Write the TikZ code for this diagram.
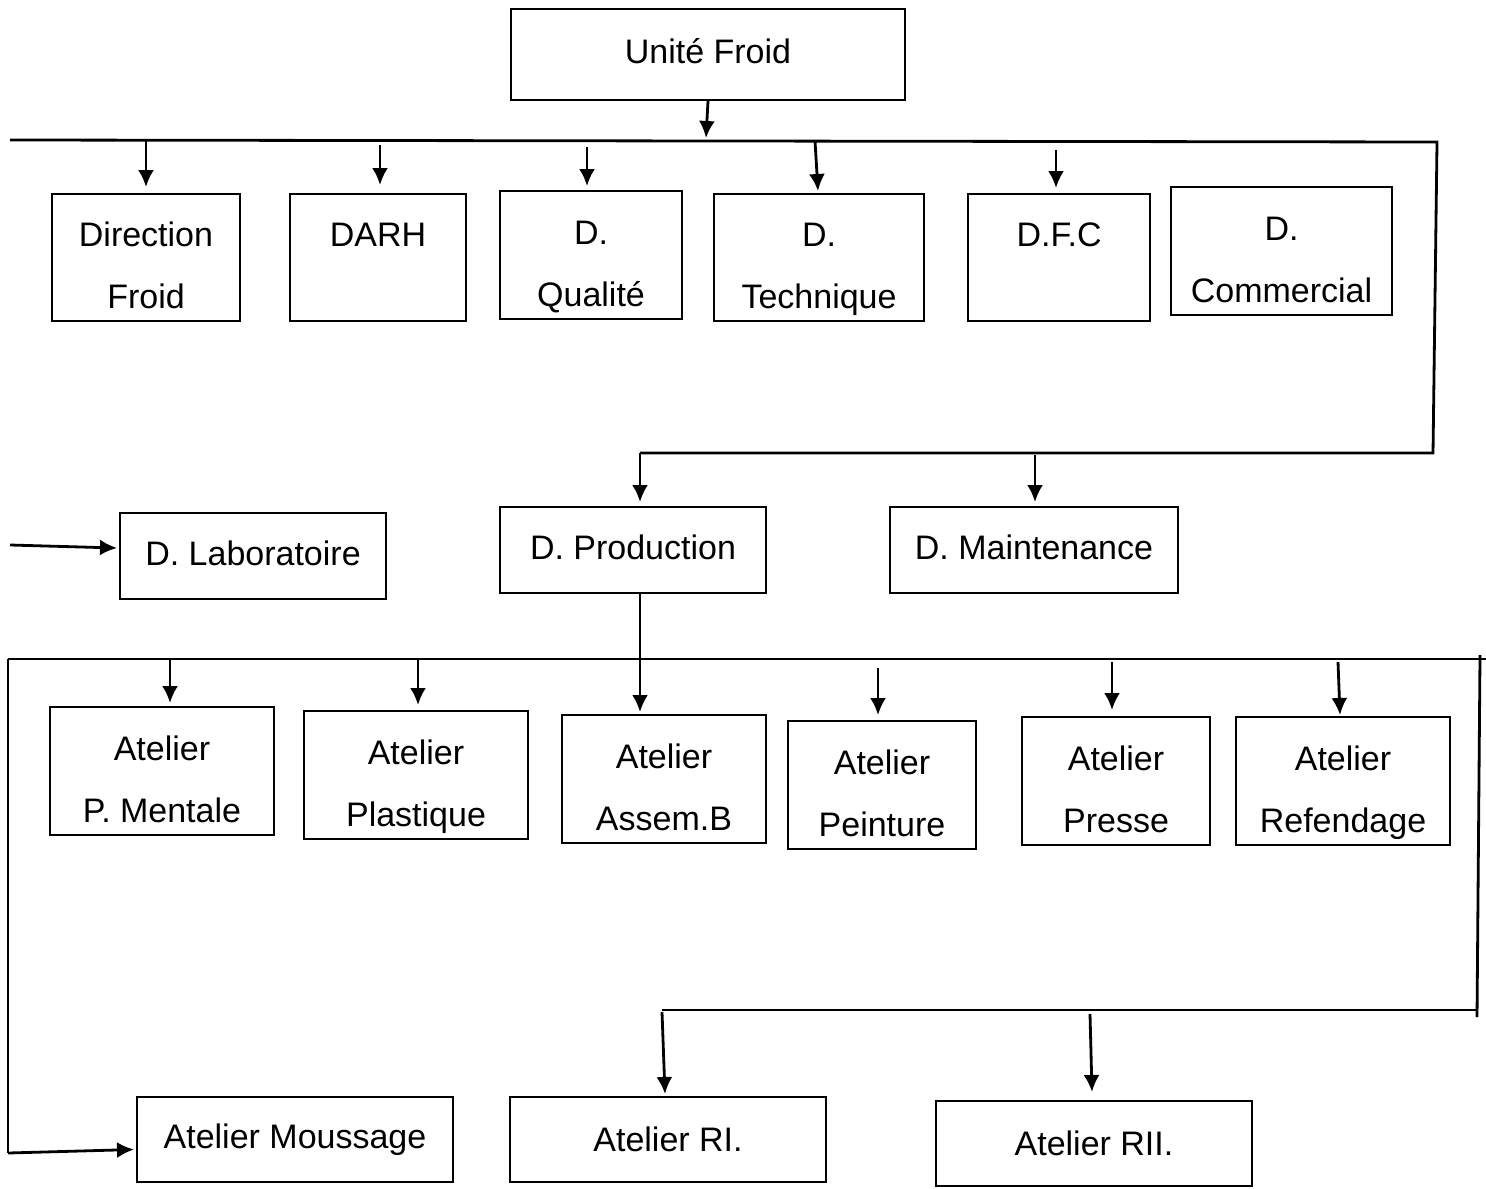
\documentclass[tikz,border=0pt]{standalone}
\usepackage{fontspec}
\setmainfont{Liberation Sans}
\usetikzlibrary{arrows.meta}
\begin{document}
\begin{tikzpicture}[x=0.5pt,y=-0.5pt,
  box/.style={draw=black,line width=1pt,rectangle,inner sep=0pt,align=center,
    font=\fontsize{17}{31}\selectfont},
  onel/.style={text height=20pt,text depth=31.5pt},
  twol/.style={text height=52.5pt,text depth=1.5pt},
  conn/.style={draw=black,line width=1.4pt},
  arr/.style={conn,-{Latex[length=8.5pt,width=8pt]}}]
\useasboundingbox (0,0) rectangle (1486,1188);
% ---- boxes
\node[box,minimum width=197pt,minimum height=45.5pt] (uf) at (708,54.5) {Unité Froid\rule[-4pt]{0pt}{4pt}};
\node[box,twol,minimum width=94pt,minimum height=63.5pt] (df) at (146,257.5) {Direction\\Froid};
\node[box,onel,minimum width=88pt,minimum height=63.5pt] (darh) at (378,257.5) {DARH};
\node[box,twol,minimum width=91pt,minimum height=64pt] (dq) at (591,255) {D.\\Qualité};
\node[box,twol,minimum width=105pt,minimum height=63.5pt] (dt) at (819,257.5) {D.\\Technique};
\node[box,onel,minimum width=91pt,minimum height=63.5pt] (dfc) at (1059,257.5) {D.F.C};
\node[box,twol,minimum width=110.5pt,minimum height=64pt] (dc) at (1281.5,251) {D.\\Commercial};
\node[box,minimum width=133pt,minimum height=43pt] (dlab) at (253,556) {D. Laboratoire\rule[-3pt]{0pt}{3pt}};
\node[box,minimum width=133pt,minimum height=43pt] (dprod) at (633,550) {D. Production\rule[-3pt]{0pt}{3pt}};
\node[box,minimum width=144pt,minimum height=43pt] (dmaint) at (1034,550) {D. Maintenance\rule[-3pt]{0pt}{3pt}};
\node[box,twol,minimum width=112pt,minimum height=64pt] (apm) at (162,771) {Atelier\\P. Mentale};
\node[box,twol,minimum width=112pt,minimum height=64pt] (apl) at (416,775) {Atelier\\Plastique};
\node[box,twol,minimum width=102pt,minimum height=64pt] (aas) at (664,779) {Atelier\\Assem.B};
\node[box,twol,minimum width=94pt,minimum height=64pt] (ape) at (882,785) {Atelier\\Peinture};
\node[box,twol,minimum width=94pt,minimum height=64pt] (apr) at (1116,781) {Atelier\\Presse};
\node[box,twol,minimum width=107pt,minimum height=64pt] (are) at (1343,781) {Atelier\\Refendage};
\node[box,minimum width=158pt,minimum height=42.5pt] (amo) at (295,1139.5) {Atelier Moussage};
\node[box,minimum width=158pt,minimum height=42.5pt] (ari) at (668,1139.5) {Atelier RI.};
\node[box,minimum width=158pt,minimum height=42.5pt] (arii) at (1094,1143.5) {Atelier RII.};
% ---- bus coordinates
\coordinate (t0) at (706,138);
\coordinate (b1l) at (10,140);
\coordinate (b1r) at (1437,142);
\coordinate (b2r) at (1433,453);
\coordinate (b2l) at (640,453);
\coordinate (s1) at (146,141);
\coordinate (s2) at (380,145);
\coordinate (s3) at (587,147);
\coordinate (s4) at (815,141);
\coordinate (s5) at (1056,150);
\coordinate (s6) at (1035,455);
\coordinate (l0) at (10,545);
\coordinate (c1l) at (8,659);
\coordinate (c1r) at (1486,659);
\coordinate (c2) at (8,1153);
\coordinate (c3r) at (1480,655);
\coordinate (c4r) at (1477,1017);
\coordinate (c5r) at (1477,1010);
\coordinate (c5l) at (662,1010);
\coordinate (r1) at (170,659);
\coordinate (r2) at (418,659);
\coordinate (r4) at (878,668);
\coordinate (r5) at (1112,662);
\coordinate (r6) at (1338,662);
\coordinate (q1) at (662,1012);
\coordinate (q2) at (1090,1014);
% ---- top level
\draw[arr] (uf.south) -- (t0);
\draw[conn] (b1l) -- (b1r) -- (b2r) -- (b2l);
\draw[arr] (s1) -- ([yshift=3pt]df.north);
\draw[arr] (s2) -- ([xshift=1pt,yshift=4pt]darh.north);
\draw[arr] (s3) -- ([xshift=-2pt,yshift=2pt]dq.north);
\draw[arr] (s4) -- ([xshift=-0.5pt,yshift=1pt]dt.north);
\draw[arr] (s5) -- ([xshift=-1.5pt,yshift=2.5pt]dfc.north);
\draw[arr] (b2l) -- ([xshift=3.5pt,yshift=2pt]dprod.north);
\draw[arr] (s6) -- ([xshift=0.5pt,yshift=2pt]dmaint.north);
\draw[arr] (l0) -- ([xshift=-1pt,yshift=4pt]dlab.west);
% ---- production level
\draw[conn] (c1l) -- (c1r);
\draw[conn] (c1l) -- (c2);
\draw[arr] (c2) -- ([xshift=-1pt,yshift=-5pt]amo.west);
\draw[arr] ([xshift=3.5pt]dprod.south) -- ([xshift=-12pt,yshift=1pt]aas.north);
\draw[conn] (c3r) -- (c4r);
\draw[conn] (c5r) -- (c5l);
\draw[arr] (r1) -- ([xshift=4pt,yshift=1.5pt]apm.north);
\draw[arr] (r2) -- ([xshift=1pt,yshift=2.5pt]apl.north);
\draw[arr] (r4) -- ([xshift=-2pt,yshift=2.5pt]ape.north);
\draw[arr] (r5) -- ([xshift=-2pt,yshift=3pt]apr.north);
\draw[arr] (r6) -- ([xshift=-1.5pt,yshift=0.5pt]are.north);
\draw[arr] (q1) -- ([xshift=-1.5pt,yshift=1pt]ari.north);
\draw[arr] (q2) -- ([xshift=-1pt,yshift=4pt]arii.north);
\end{tikzpicture}
\end{document}
